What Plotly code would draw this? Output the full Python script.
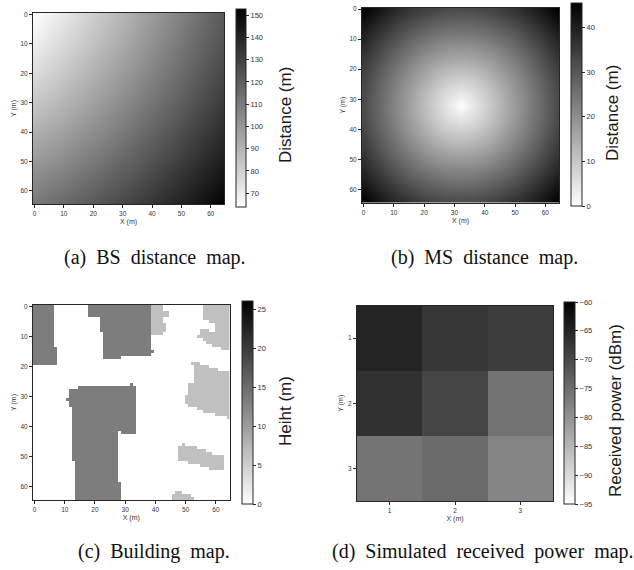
import numpy as np
import plotly.graph_objects as go

W, H = 634, 570
FONT = "Liberation Sans"
SERIF = "Liberation Serif"
GREY = [[0, "#ffffff"], [1, "#000000"]]

# (a) BS distance map: distance read at every 8 m
BS_NODES = [0, 8, 16, 24, 32, 40, 48, 56, 64]
BS_DIST = [
    [64.0, 70.5, 77.3, 84.2, 91.4, 98.7, 106.1, 113.5, 121.1],
    [68.4, 74.5, 80.9, 87.6, 94.5, 101.6, 108.8, 116.1, 123.5],
    [73.4, 79.1, 85.2, 91.6, 98.2, 105.0, 112.0, 119.1, 126.3],
    [78.9, 84.3, 90.0, 96.1, 102.4, 109.0, 115.7, 122.6, 129.6],
    [84.9, 89.8, 95.2, 101.0, 107.0, 113.3, 119.8, 126.5, 133.3],
    [91.1, 95.8, 100.8, 106.3, 112.0, 118.0, 124.3, 130.7, 137.3],
    [97.6, 101.9, 106.7, 111.9, 117.4, 123.1, 129.1, 135.3, 141.7],
    [104.3, 108.4, 112.9, 117.8, 123.0, 128.5, 134.3, 140.2, 146.4],
    [111.1, 115.0, 119.3, 123.9, 128.9, 134.1, 139.7, 145.4, 151.4],
]

# (b) MS distance map: distance read at every 4 m
MS_NODES = list(range(0, 65, 4))
MS_DIST = [
    [45.3, 42.5, 40.0, 37.7, 35.8, 34.2, 33.0, 32.2, 32.0, 32.2, 33.0, 34.2, 35.8, 37.7, 40.0, 42.5, 45.3],
    [42.5, 39.6, 36.9, 34.4, 32.2, 30.5, 29.1, 28.3, 28.0, 28.3, 29.1, 30.5, 32.2, 34.4, 36.9, 39.6, 42.5],
    [40.0, 36.9, 33.9, 31.2, 28.8, 26.8, 25.3, 24.3, 24.0, 24.3, 25.3, 26.8, 28.8, 31.2, 33.9, 36.9, 40.0],
    [37.7, 34.4, 31.2, 28.3, 25.6, 23.3, 21.5, 20.4, 20.0, 20.4, 21.5, 23.3, 25.6, 28.3, 31.2, 34.4, 37.7],
    [35.8, 32.2, 28.8, 25.6, 22.6, 20.0, 17.9, 16.5, 16.0, 16.5, 17.9, 20.0, 22.6, 25.6, 28.8, 32.2, 35.8],
    [34.2, 30.5, 26.8, 23.3, 20.0, 17.0, 14.4, 12.6, 12.0, 12.6, 14.4, 17.0, 20.0, 23.3, 26.8, 30.5, 34.2],
    [33.0, 29.1, 25.3, 21.5, 17.9, 14.4, 11.3, 8.9, 8.0, 8.9, 11.3, 14.4, 17.9, 21.5, 25.3, 29.1, 33.0],
    [32.2, 28.3, 24.3, 20.4, 16.5, 12.6, 8.9, 5.7, 4.0, 5.7, 8.9, 12.6, 16.5, 20.4, 24.3, 28.3, 32.2],
    [32.0, 28.0, 24.0, 20.0, 16.0, 12.0, 8.0, 4.0, 0.0, 4.0, 8.0, 12.0, 16.0, 20.0, 24.0, 28.0, 32.0],
    [32.2, 28.3, 24.3, 20.4, 16.5, 12.6, 8.9, 5.7, 4.0, 5.7, 8.9, 12.6, 16.5, 20.4, 24.3, 28.3, 32.2],
    [33.0, 29.1, 25.3, 21.5, 17.9, 14.4, 11.3, 8.9, 8.0, 8.9, 11.3, 14.4, 17.9, 21.5, 25.3, 29.1, 33.0],
    [34.2, 30.5, 26.8, 23.3, 20.0, 17.0, 14.4, 12.6, 12.0, 12.6, 14.4, 17.0, 20.0, 23.3, 26.8, 30.5, 34.2],
    [35.8, 32.2, 28.8, 25.6, 22.6, 20.0, 17.9, 16.5, 16.0, 16.5, 17.9, 20.0, 22.6, 25.6, 28.8, 32.2, 35.8],
    [37.7, 34.4, 31.2, 28.3, 25.6, 23.3, 21.5, 20.4, 20.0, 20.4, 21.5, 23.3, 25.6, 28.3, 31.2, 34.4, 37.7],
    [40.0, 36.9, 33.9, 31.2, 28.8, 26.8, 25.3, 24.3, 24.0, 24.3, 25.3, 26.8, 28.8, 31.2, 33.9, 36.9, 40.0],
    [42.5, 39.6, 36.9, 34.4, 32.2, 30.5, 29.1, 28.3, 28.0, 28.3, 29.1, 30.5, 32.2, 34.4, 36.9, 39.6, 42.5],
    [45.3, 42.5, 40.0, 37.7, 35.8, 34.2, 33.0, 32.2, 32.0, 32.2, 33.0, 34.2, 35.8, 37.7, 40.0, 42.5, 45.3],
]

# (c) Building map: runs of cells (first row, last row, first col, last col, height)
TALL = 13.3
LOW = 6.4
BUILDING_RUNS = [
    (0, 13, 0, 6, TALL), (14, 19, 0, 7, TALL),
    (0, 3, 18, 38, TALL), (4, 8, 22, 38, TALL), (9, 16, 23, 38, TALL), (17, 17, 23, 28, TALL), (15, 15, 39, 39, TALL),
    (26, 26, 32, 32, TALL), (27, 27, 15, 33, TALL), (28, 33, 12, 33, TALL), (31, 31, 11, 11, TALL),
    (34, 41, 13, 33, TALL), (42, 42, 13, 27, TALL), (42, 42, 29, 33, TALL), (43, 51, 13, 27, TALL),
    (52, 58, 14, 27, TALL), (59, 64, 14, 28, TALL),
    (0, 1, 39, 42, LOW), (2, 3, 39, 44, LOW), (4, 5, 39, 42, LOW), (6, 8, 39, 43, LOW), (9, 9, 39, 42, LOW),
    (0, 4, 56, 64, LOW), (5, 5, 58, 64, LOW), (6, 7, 60, 64, LOW), (8, 8, 55, 57, LOW), (8, 8, 60, 64, LOW),
    (9, 9, 55, 64, LOW), (10, 10, 54, 64, LOW), (11, 11, 56, 64, LOW), (12, 12, 57, 64, LOW),
    (13, 13, 59, 64, LOW), (14, 14, 62, 64, LOW),
    (19, 19, 52, 54, LOW), (20, 20, 53, 57, LOW), (21, 21, 53, 60, LOW), (22, 25, 53, 64, LOW),
    (26, 29, 51, 64, LOW), (30, 32, 50, 64, LOW), (33, 33, 51, 64, LOW), (34, 34, 54, 64, LOW),
    (35, 35, 56, 64, LOW), (36, 36, 60, 64, LOW), (37, 37, 64, 64, LOW),
    (46, 46, 49, 49, LOW), (47, 47, 48, 53, LOW), (48, 48, 48, 56, LOW), (49, 49, 48, 58, LOW),
    (50, 51, 48, 62, LOW), (52, 52, 51, 62, LOW), (53, 53, 55, 62, LOW), (54, 54, 58, 62, LOW),
    (62, 62, 47, 48, LOW), (63, 63, 46, 51, LOW), (64, 64, 46, 52, LOW),
]

# (d) Received power
CELLS = [1, 2, 3]
POWER = [
    [-64.9, -67.4, -68.4],
    [-66.6, -69.5, -75.6],
    [-75.9, -74.7, -78.1],
]

MAP_TICKS = [0, 10, 20, 30, 40, 50, 60]

heights = np.zeros((65, 65))
for r0, r1, c0, c1, h in BUILDING_RUNS:
    heights[r0:r1 + 1, c0:c1 + 1] = h

# panel boxes in pixels: plot (l, t, r, b), colour bar (l, t, r, b)
panels = [
    dict(z=BS_DIST, x=BS_NODES, y=BS_NODES, smooth="best", zr=(63.8, 152.8), plot=(33, 13, 224, 204),
         bar=(236, 9, 246, 207), ticks=list(range(70, 151, 10)), title="Distance (m)", tx=286, ty=115, rng=(-0.5, 64.5), axt=MAP_TICKS),
    dict(z=MS_DIST, x=MS_NODES, y=MS_NODES, smooth="best", zr=(0, 45.5), plot=(362, 7.5, 559, 203),
         bar=(570.5, 3, 581, 206), ticks=[0, 10, 20, 30, 40], title="Distance (m)", tx=613, ty=113, rng=(-0.5, 64.5), axt=MAP_TICKS),
    dict(z=heights.tolist(), x=list(range(65)), y=list(range(65)), smooth=False, zr=(0, 26.1), plot=(33, 305, 229.5, 500),
         bar=(241.5, 301, 252, 503.5), ticks=[0, 5, 10, 15, 20, 25], title="Heiht (m)", tx=285, ty=411, rng=(-0.5, 64.5), axt=MAP_TICKS),
    dict(z=POWER, x=CELLS, y=CELLS, smooth=False, zr=(-95, -60), plot=(357, 305.5, 553, 501),
         bar=(564, 302, 575, 503.5), ticks=list(range(-95, -59, 5)), title="Received power (dBm)", tx=615, ty=411, rng=(0.5, 3.5), axt=CELLS),
]

fig = go.Figure()
annotations = []
INK = "#262626"
for i, p in enumerate(panels, start=1):
    l, t, r, b = p["plot"]
    bl, bt, br, bb = p["bar"]
    fig.add_trace(go.Heatmap(
        z=p["z"], x=p["x"], y=p["y"], xaxis=f"x{i}", yaxis=f"y{i}",
        zmin=p["zr"][0], zmax=p["zr"][1], colorscale=GREY, zsmooth=p["smooth"],
        colorbar=dict(
            x=bl / W, xanchor="left", y=1 - bt / H, yanchor="top",
            len=(bb - bt) / H, lenmode="fraction", thickness=br - bl, thicknessmode="pixels",
            xpad=0, ypad=0, outlinewidth=1, outlinecolor=INK,
            tickmode="array", tickvals=p["ticks"], ticks="outside", ticklen=3, tickwidth=0.8, tickcolor=INK,
            tickfont=dict(family=FONT, size=7.5, color="#333333"),
        ),
    ))
    common = dict(
        showline=True, mirror=True, linecolor=INK, linewidth=1, showgrid=False, zeroline=False,
        tickmode="array", tickvals=p["axt"], ticks="outside", ticklen=3, tickwidth=0.8, tickcolor=INK,
        tickfont=dict(family=FONT, size=6.5, color="#333333"),
    )
    suffix = "" if i == 1 else str(i)
    fig.update_layout({
        f"xaxis{suffix}": dict(common, domain=[l / W, r / W], range=list(p["rng"]), anchor=f"y{suffix}",
                               title=dict(text="X (m)", font=dict(family=FONT, size=7, color="#333333"), standoff=3)),
        f"yaxis{suffix}": dict(common, domain=[1 - b / H, 1 - t / H], range=[p["rng"][1], p["rng"][0]], anchor=f"x{suffix}",
                               title=dict(text="Y (m)", font=dict(family=FONT, size=7, color="#333333"), standoff=3)),
    })
    annotations.append(dict(
        text=p["title"], x=p["tx"] / W, y=1 - p["ty"] / H, xref="paper", yref="paper", xanchor="center", yanchor="middle",
        textangle=-90, showarrow=False, font=dict(family=FONT, size=17, color="#1a1a1a"),
    ))

NB = "\u00a0"
captions = [
    (f"(a){NB}{NB}BS{NB}{NB}distance{NB}{NB}map.", 154.5, 257),
    (f"(b){NB}{NB}MS{NB}{NB}distance{NB}{NB}map.", 484, 257),
    (f"(c){NB}{NB}Building{NB}{NB}map.", 154, 551),
    (f"(d){NB}{NB}Simulated{NB}{NB}received{NB}{NB}power{NB}{NB}map.", 482.5, 551),
]
for text, cx, cy in captions:
    annotations.append(dict(
        text=text, x=cx / W, y=1 - cy / H, xref="paper", yref="paper", xanchor="center", yanchor="middle",
        showarrow=False, font=dict(family=SERIF, size=20, color="#111111"),
    ))

fig.update_layout(
    width=W, height=H, margin=dict(l=0, r=0, t=0, b=0, autoexpand=False),
    paper_bgcolor="white", plot_bgcolor="white", annotations=annotations, showlegend=False,
)
fig.write_html("out.html", config=dict(displayModeBar=False),
               post_script="document.body.style.margin='0';document.documentElement.style.overflow='hidden';")
